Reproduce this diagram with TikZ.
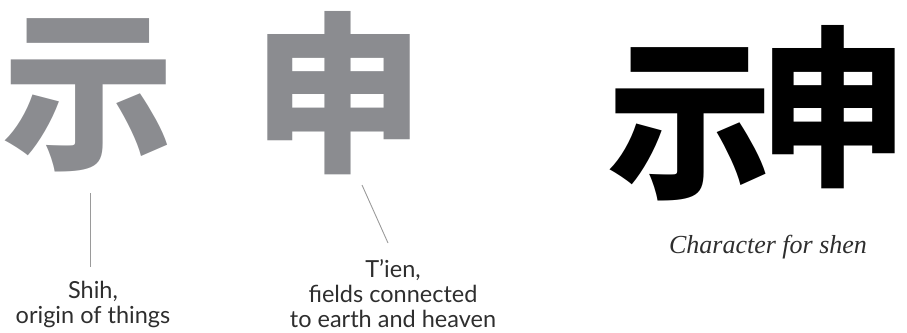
\documentclass[tikz,border=0pt]{standalone}
\usepackage{fontspec}
\setmainfont{Lato}
\newfontfamily\cjk{Noto Sans CJK SC}
\newfontfamily\capfont{Liberation Serif}
\definecolor{glyphgray}{HTML}{8B8C90}
\definecolor{linegray}{HTML}{9A9A9A}
\definecolor{textdark}{HTML}{2E2E2E}
\tikzset{
  bigglyph/.style={inner sep=0pt, font=\cjk\bfseries\fontsize{172}{172}\selectfont},
  label/.style={inner sep=0pt, align=center, text=textdark, font=\fontsize{23.5}{25}\selectfont},
  leader/.style={draw=linegray, line width=0.9pt}
}
\begin{document}
\begin{tikzpicture}[x=1pt,y=-1pt]
\useasboundingbox (0,0) rectangle (907,332);
% gray components
\node[bigglyph, text=glyphgray] (shi) at (88,95) {示};
\node[bigglyph, text=glyphgray] (tien) at (338,93) {申};
% black composite
\node[bigglyph, text=black] (bshi) at (690,124) {\scalebox{0.96}[1]{示}};
\node[bigglyph, text=black] (btien) at (833,107) {\scalebox{0.86}[1]{申}};
% labels
\node[label, anchor=north] (shilab) at (93,281) {Shih,\\origin of things};
\node[label, anchor=north] (tienlab) at (393,259) {T’ien,\\fields connected\\to earth and heaven};
\node[inner sep=0pt, anchor=base, text=textdark, font=\capfont\itshape\fontsize{26}{30}\selectfont] (cap) at (768,253) {Character for shen};
% leaders
\coordinate (l1a) at (90,193);
\coordinate (l1b) at (90,267);
\coordinate (l2a) at (362,185);
\coordinate (l2b) at (388,243);
\draw[leader] (l1a) -- (l1b);
\draw[leader] (l2a) -- (l2b);
\end{tikzpicture}
\end{document}
